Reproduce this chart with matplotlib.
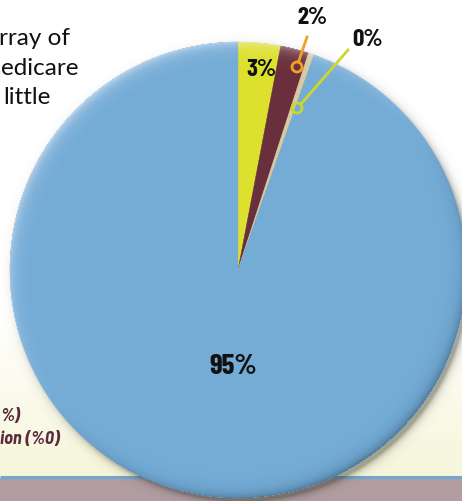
import numpy as np
import matplotlib
matplotlib.use("Agg")
import matplotlib.pyplot as plt
from matplotlib.patches import Circle, Rectangle
from matplotlib.colors import LinearSegmentedColormap

# ---- data ----
categories = ["Yellow", "Maroon", "Tan", "Blue"]
values = [3.0, 2.0, 0.4, 94.6]
labels = ["3%", "2%", "0%", "95%"]
colors = ["#dde12e", "#6a2f3c", "#d9c9a2", "#74acd6"]
side_text = ["rray of", "edicare", "little"]
legend_text = ["%)", "ion (%0)"]

W, H = 462, 501
fig = plt.figure(figsize=(W / 100, H / 100), dpi=100)
ax = fig.add_axes([0, 0, 1, 1])

def Y(py):
    return H - py

# background gradient (white -> cream)
grad = np.linspace(0, 1, 256).reshape(-1, 1)
cmap = LinearSegmentedColormap.from_list("bg", ["#ffffff", "#ffffff", "#f6f6da"])
ax.imshow(grad, extent=[0, W, Y(476), Y(150)], cmap=cmap, aspect="auto",
          origin="upper", zorder=0)
ax.add_patch(Rectangle((0, 0), W, Y(478), color="#b29ea2", zorder=1, lw=0))
ax.plot([0, W], [Y(477), Y(477)], color="#6fa8d2", lw=2.2, zorder=1.5,
        solid_capstyle="butt")

cx, cy, r = 238, Y(270), 228

# soft drop shadow (image)
xs = np.arange(0, W) + 0.5
ys = np.arange(0, H) + 0.5
XX, YY = np.meshgrid(xs, ys)
rho_s = np.hypot(XX - (cx + 4), YY - (cy - 5))
sh_a = np.clip(0.45 * np.exp(-np.clip(rho_s - (r - 2), 0, None) / 3.5), 0, 1)
sh_a[rho_s < r - 2] = 0.45
shadow = np.zeros((H, W, 4))
shadow[..., :3] = np.array([0.22, 0.22, 0.18])
shadow[..., 3] = sh_a
ax.imshow(shadow, extent=[0, W, 0, H], origin="lower", aspect="auto", zorder=2)

wedges, _ = ax.pie(values, colors=colors, startangle=90, counterclock=False,
                   center=(cx, cy), radius=r, frame=True,
                   wedgeprops=dict(linewidth=0.3))
for w, c in zip(wedges, colors):
    w.set_zorder(3)
    w.set_edgecolor(c)

# rim shading overlay (light upper-left, dark lower-right)
dx = XX - cx
dy = YY - cy
rho = np.hypot(dx, dy)
edge = r - rho
s = (dx * -0.6 + dy * 0.8) / np.maximum(rho, 1)
f = np.exp(-np.clip(edge, 0, None) / 6.0)
inside = (edge >= 0).astype(float)
light = np.clip(s, 0, None) * f * 0.55 * inside
dark = np.clip(-s, 0, None) * f * 0.45 * inside
over = np.zeros((H, W, 4))
a_tot = light + dark
rgb_light = np.array([0.96, 0.96, 1.0])
rgb_dark = np.array([0.12, 0.22, 0.32])
mix = np.where(a_tot > 0, light / np.maximum(a_tot, 1e-9), 0)[..., None]
over[..., :3] = mix * rgb_light + (1 - mix) * rgb_dark
over[..., 3] = np.clip(a_tot, 0, 1)
ax.imshow(over, extent=[0, W, 0, H], origin="lower", aspect="auto", zorder=4)

ax.set_xlim(0, W)
ax.set_ylim(0, H)
ax.axis("off")

# value labels
lab_font = ["Barlow Condensed", "Asap Condensed", "DejaVu Sans"]
ax.text(233, Y(367), labels[3], fontsize=21, fontweight="bold",
        family=lab_font, ha="center", va="center", color="#111111", zorder=6)
ax.text(261, Y(70), labels[0], fontsize=18, fontweight="bold",
        family=lab_font, ha="center", va="center", color="#111111", zorder=6)
ax.text(312, Y(18), labels[1], fontsize=18, fontweight="bold",
        family=lab_font, ha="center", va="center", color="#111111", zorder=6)
ax.text(368, Y(40), labels[2], fontsize=18, fontweight="bold",
        family=lab_font, ha="center", va="center", color="#111111", zorder=6)

# leader lines with rings
ax.plot([307, 298.5], [Y(37), Y(62)], color="#eea322", lw=2, zorder=6)
ax.add_patch(Circle((297, Y(67)), 5, fill=False, ec="#eea322", lw=2, zorder=6))
ax.plot([348, 301], [Y(50), Y(104)], color="#cdd72a", lw=2, zorder=6)
ax.add_patch(Circle((297, Y(108)), 5, fill=False, ec="#cdd72a", lw=2, zorder=6))

# clipped side text
side_font = ["Lato", "DejaVu Sans"]
for t, x, py in zip(side_text, [-1, 1, 3], [45, 75, 104]):
    ax.text(x, Y(py), t, fontsize=17.5, family=side_font, color="#111111",
            ha="left", va="baseline", zorder=6)

# clipped legend text
leg_font = ["Barlow Semi Condensed", "Barlow Condensed", "DejaVu Sans"]
for t, py in zip(legend_text, [421, 444]):
    ax.text(0, Y(py), t, fontsize=13, fontweight="bold", style="italic",
            family=leg_font, color="#5b2a3c", ha="left", va="baseline", zorder=6)

fig.savefig("out.png", dpi=100)
